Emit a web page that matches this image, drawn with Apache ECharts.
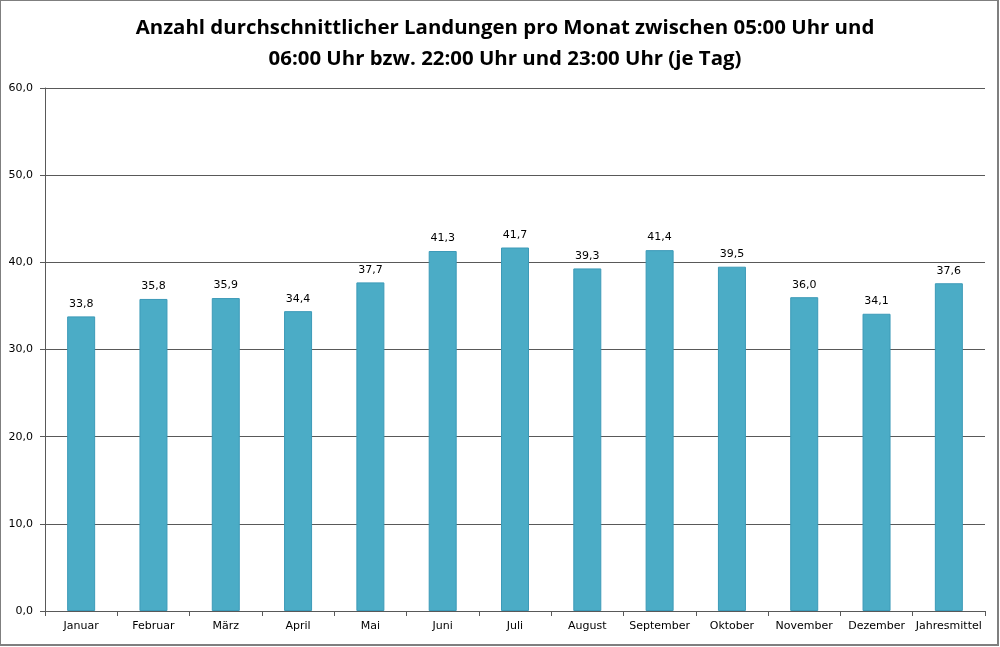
<!DOCTYPE html>
<html><head><meta charset="utf-8">
<script src="https://cdn.jsdelivr.net/npm/echarts@6/dist/echarts.min.js"></script>
<style>html,body{margin:0;padding:0;background:#fff}
#wrap{position:absolute;left:0;top:0;width:996px;height:643px;border:2px solid #7f7f7f;border-width:1px 2px 2px 1px;}
#c{width:997px;height:645px}</style></head>
<body><div id="wrap"></div><div id="c" style="position:absolute;left:0;top:0"></div>
<script>
var categories = ["Januar","Februar","März","April","Mai","Juni","Juli","August","September","Oktober","November","Dezember","Jahresmittel"];
var values = [33.8,35.8,35.9,34.4,37.7,41.3,41.7,39.3,41.4,39.5,36.0,34.1,37.6];
var titleLines = ["Anzahl durchschnittlicher Landungen pro Monat zwischen 05:00 Uhr und","06:00 Uhr bzw. 22:00 Uhr und 23:00 Uhr (je Tag)"];
var fmt = function(v){return Number(v).toFixed(1).replace('.',',');};
var chart = echarts.init(document.getElementById('c'));
chart.setOption({
  animation:false,
  title:{text:titleLines.join('\n'),left:500,top:8,textAlign:'center',
    textStyle:{fontFamily:'Open Sans',fontWeight:'bold',fontSize:20.4,lineHeight:31,color:'#000'}},
  grid:{left:45,right:12,top:88,bottom:34},
  xAxis:{type:'category',data:categories,
    axisLine:{lineStyle:{color:'#595959',width:1}},
    axisTick:{show:true,length:5,lineStyle:{color:'#595959'}},
    axisLabel:{color:'#000',fontFamily:'DejaVu Sans',fontSize:11,margin:10,interval:0}},
  yAxis:{type:'value',min:0,max:60,interval:10,
    axisLine:{show:true,lineStyle:{color:'#595959'}},
    axisTick:{show:true,length:5,lineStyle:{color:'#595959'}},
    splitLine:{lineStyle:{color:'#595959',width:1}},
    axisLabel:{color:'#000',fontFamily:'DejaVu Sans',fontSize:11,margin:12,formatter:fmt}},
  series:[{type:'bar',data:values,barWidth:28,
    itemStyle:{color:'#4BACC6',borderColor:'#3C9AB8',borderWidth:1},
    label:{show:true,position:'top',distance:7,color:'#000',fontFamily:'DejaVu Sans',fontSize:11,formatter:function(p){return fmt(p.value);}}}]
});
</script></body></html>
